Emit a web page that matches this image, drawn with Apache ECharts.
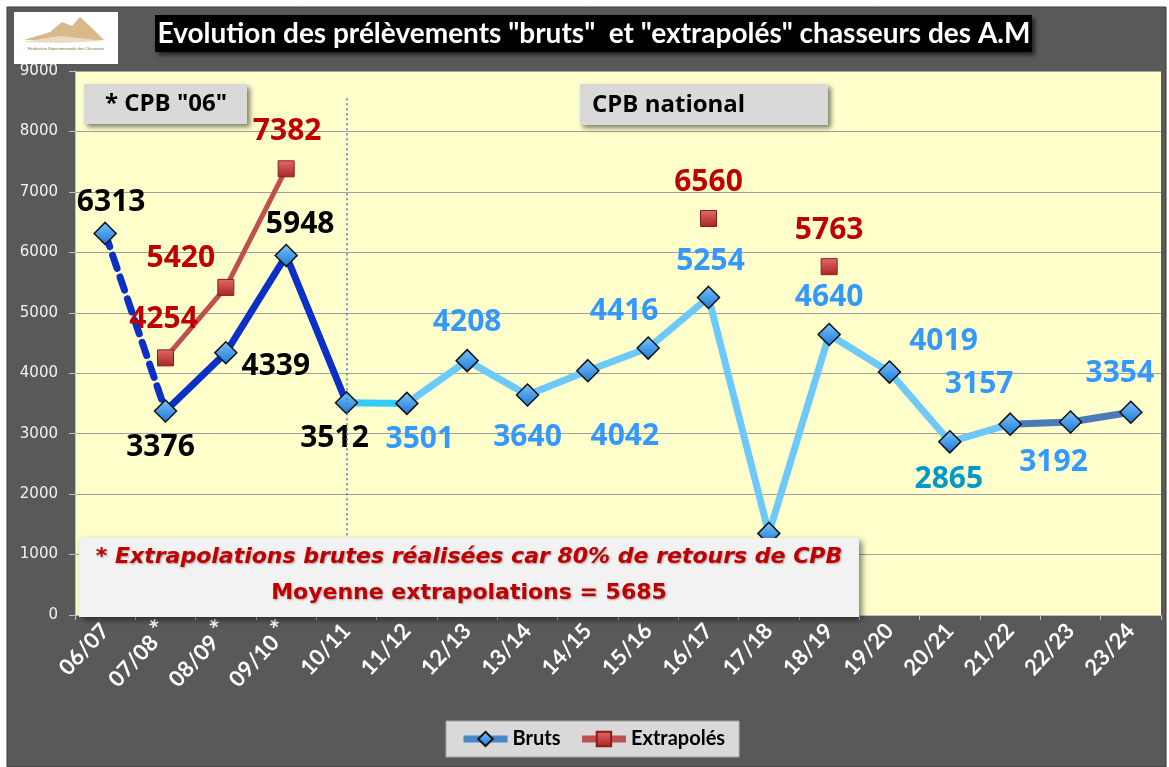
<!DOCTYPE html>
<html>
<head>
<meta charset="utf-8">
<title>Evolution des prélèvements</title>
<script src="https://cdn.jsdelivr.net/npm/echarts@6/dist/echarts.min.js"></script>
<style>
  html, body { margin: 0; padding: 0; background: #fff; }
  #chart { width: 1169px; height: 767px; }
</style>
</head>
<body>
<div id="chart"></div>
<script>
// saisons (l'étoile = extrapolation CPB "06")
const categories = ['06/07', '07/08*', '08/09*', '09/10*', '10/11', '11/12', '12/13', '13/14', '14/15',
  '15/16', '16/17', '17/18', '18/19', '19/20', '20/21', '21/22', '22/23', '23/24']

const bruts = [6313, 3376, 4339, 5948, 3512, 3501, 4208, 3640, 4042, 4416, 5254, 1350, 4640, 4019, 2865, 3157, 3192, 3354]
const extrapoles = [null, 4254, 5420, 7382, null, null, null, null, null, null, 6560, null, 5763, null, null, null, null, null]

const yTicks = [0, 1000, 2000, 3000, 4000, 5000, 6000, 7000, 8000, 9000]

// décalage des étiquettes [dx, dy] (style)
const brutsLabelOffset = [[6, -31], [-5, 37], [50, 14], [14, -31], [-12, 36], [13, 36], [0, -38], [0, 42], [37, 66],
  [-24, -37], [2, -36], null, [0, -37], [54, -31], [-1, 38], [-31, -40], [-17, 40], [-11, -39]]
const brutsLabelColor = ['#000', '#000', '#000', '#000', '#000', '#3399ff', '#3399ff', '#3399ff', '#3399ff',
  '#3399ff', '#3399ff', '#3399ff', '#3399ff', '#3399ff', '#0099cc', '#3399ff', '#3399ff', '#3399ff']
const extraLabelOffset = { 1: [-2, -38], 2: [-45, -29], 3: [1, -37], 10: [0, -36], 12: [0, -36] }

// tronçons de la courbe "Bruts"
const segments = [
  { from: 0, to: 1, color: '#0a30c8', type: [14, 9] },
  { from: 1, to: 4, color: '#0a30c8', type: 'solid' },
  { from: 4, to: 5, color: '#33ccff', type: 'solid' },
  { from: 5, to: 15, color: '#6cc9f9', type: 'solid' },
  { from: 15, to: 17, color: '#4a7ab8', type: 'solid' }
]

const labelFont = 'Open Sans'

const diamondColor = {
  type: 'linear', x: 0, y: 0, x2: 0, y2: 1,
  colorStops: [{ offset: 0, color: '#7cc4ff' }, { offset: 1, color: '#1a76d4' }]
}
const squareColor = {
  type: 'linear', x: 0, y: 0, x2: 0, y2: 1,
  colorStops: [{ offset: 0, color: '#e46a6a' }, { offset: 1, color: '#a82424' }]
}

const segmentSeries = segments.map((s, i) => ({
  name: 'seg' + i,
  type: 'line',
  data: bruts.map((v, k) => (k >= s.from && k <= s.to ? v : null)),
  symbol: 'none',
  silent: true,
  z: 2,
  lineStyle: { color: s.color, width: 7, type: s.type, cap: 'round', join: 'round' }
}))

// limite CPB "06" / CPB national
segmentSeries[0].markLine = {
  silent: true,
  symbol: 'none',
  label: { show: false },
  lineStyle: { color: '#4a7ab8', width: 1.5, type: [2, 3] },
  data: [[{ coord: ['10/11', 8550] }, { coord: ['10/11', 0] }]]
}

const brutsData = bruts.map((v, i) => {
  const off = brutsLabelOffset[i]
  return {
    value: v,
    label: off
      ? { show: true, position: 'inside', offset: off, color: brutsLabelColor[i] }
      : { show: false }
  }
})

const extraData = extrapoles.map((v, i) => {
  if (v === null) return null
  const off = extraLabelOffset[i] || [0, -36]
  return { value: v, label: { show: true, position: 'inside', offset: off } }
})

const chart = echarts.init(document.getElementById('chart'))

const option = {
  backgroundColor: '#ffffff',
  animation: false,
  grid: {
    left: 75, right: 8, top: 71, bottom: 152,
    show: true,
    backgroundColor: '#ffffcc',
    borderWidth: 0
  },
  legend: {
    left: 446, top: 721,
    width: 294,
    padding: [8, 14, 8, 14],
    backgroundColor: '#d9d9d9',
    borderColor: '#a6a6a6',
    borderWidth: 1,
    itemWidth: 44,
    itemHeight: 18,
    itemGap: 18,
    textStyle: { color: '#000', fontSize: 20, fontFamily: 'Lato', fontWeight: 'bold' },
    data: [
      { name: 'Bruts', lineStyle: { color: '#4a86c8', width: 7, opacity: 1 } },
      { name: 'Extrapolés', lineStyle: { color: '#c0504d', width: 7 } }
    ]
  },
  xAxis: {
    type: 'category',
    data: categories,
    boundaryGap: true,
    axisLine: { lineStyle: { color: '#bfbfbf' } },
    axisTick: { show: true, length: 5, lineStyle: { color: '#bfbfbf' } },
    axisLabel: {
      rotate: 47,
      margin: 12,
      color: '#fff',
      fontSize: 22,
      fontWeight: 'bold',
      fontFamily: 'Lato',
      formatter: v => (v.endsWith('*') ? v.slice(0, -1) + '{s|*}' : v),
      rich: { s: { fontSize: 26, color: '#fff', fontWeight: 'bold', fontFamily: 'Lato', padding: [0, 0, 8, 5] } }
    }
  },
  yAxis: {
    type: 'value',
    min: yTicks[0],
    max: yTicks[yTicks.length - 1],
    interval: 1000,
    axisLine: { show: true, lineStyle: { color: '#bfbfbf' } },
    axisTick: { show: true, length: 6, lineStyle: { color: '#bfbfbf' } },
    axisLabel: { color: '#f2f2f2', fontSize: 15, fontFamily: 'DejaVu Sans', margin: 17, formatter: v => String(v) },
    splitLine: { lineStyle: { color: '#a0a0a0', width: 1.2 } }
  },
  series: [
    ...segmentSeries,
    {
      name: 'Bruts',
      type: 'line',
      data: brutsData,
      z: 4,
      symbol: 'diamond',
      symbolSize: 22,
      lineStyle: { width: 0, opacity: 0 },
      itemStyle: { color: diamondColor, borderColor: '#111', borderWidth: 1.5 },
      label: { fontSize: 30, fontFamily: labelFont, fontWeight: 'bold' }
    },
    {
      name: 'Extrapolés',
      type: 'line',
      data: extraData,
      z: 3,
      connectNulls: false,
      symbol: 'rect',
      symbolSize: 16,
      lineStyle: { color: '#c0504d', width: 5 },
      itemStyle: { color: squareColor, borderColor: '#8a1c1c', borderWidth: 1 },
      label: { fontSize: 30, fontFamily: labelFont, fontWeight: 'bold', color: '#c00000' }
    }
  ],
  graphic: [
    // fond gris
    { type: 'rect', z: -100, silent: true, shape: { x: 7, y: 7, width: 1159, height: 760 },
      style: { fill: '#595959', stroke: '#3a3a3a', lineWidth: 1 } },
    // logo
    { type: 'rect', z: 100, shape: { x: 14, y: 12, width: 104, height: 52 }, style: { fill: '#fff' } },
    { type: 'polygon', z: 101, shape: { points: [[24, 40], [50, 32], [62, 22], [72, 26], [80, 17], [92, 28], [104, 40]] },
      style: { fill: '#d9b98a' } },
    { type: 'polygon', z: 101, shape: { points: [[22, 42], [60, 36], [106, 41], [60, 43]] }, style: { fill: '#e8dcc8' } },
    { type: 'text', z: 102, style: { text: 'Fédération Départementale des Chasseurs', x: 66, y: 47, fill: '#8a6a40',
      font: '4px sans-serif', textAlign: 'center' } },
    // titre
    { type: 'rect', z: 100, shape: { x: 155, y: 15, width: 877, height: 37 },
      style: { fill: '#000', shadowBlur: 4, shadowOffsetX: 3, shadowOffsetY: 3, shadowColor: 'rgba(0,0,0,0.6)' } },
    { type: 'text', z: 101, style: { text: 'Evolution des prélèvements "bruts"  et "extrapolés" chasseurs des A.M',
      x: 594, y: 34, fill: '#fff', font: 'bold 28px Lato', textAlign: 'center', textVerticalAlign: 'middle' } },
    // encadrés
    { type: 'rect', z: 100, shape: { x: 84, y: 84, width: 163, height: 40 },
      style: { fill: '#d9d9d9', shadowBlur: 5, shadowOffsetX: 3, shadowOffsetY: 3, shadowColor: 'rgba(0,0,0,0.5)' } },
    { type: 'text', z: 101, style: { text: '* CPB "06"', x: 166, y: 104, fill: '#000', font: 'bold 24px "Open Sans"',
      textAlign: 'center', textVerticalAlign: 'middle' } },
    { type: 'rect', z: 100, shape: { x: 580, y: 84, width: 248, height: 41 },
      style: { fill: '#d9d9d9', shadowBlur: 5, shadowOffsetX: 3, shadowOffsetY: 3, shadowColor: 'rgba(0,0,0,0.5)' } },
    { type: 'text', z: 101, style: { text: 'CPB national', x: 592, y: 105, fill: '#000', font: 'bold 24px "Open Sans"',
      textAlign: 'left', textVerticalAlign: 'middle' } },
    // note
    { type: 'rect', z: 100, shape: { x: 79, y: 538, width: 780, height: 79 },
      style: { fill: '#f2f2f2', shadowBlur: 6, shadowOffsetX: 3, shadowOffsetY: 3, shadowColor: 'rgba(0,0,0,0.5)' } },
    { type: 'text', z: 101, style: { text: '* Extrapolations brutes réalisées car 80% de retours de CPB', x: 469, y: 557,
      fill: '#c00000', font: 'italic bold 22px "DejaVu Sans"', textAlign: 'center', textVerticalAlign: 'middle',
      textShadowColor: 'rgba(0,0,0,0.35)', textShadowBlur: 2, textShadowOffsetX: 1, textShadowOffsetY: 1 } },
    { type: 'text', z: 101, style: { text: 'Moyenne extrapolations = 5685', x: 469, y: 593,
      fill: '#c00000', font: 'bold 22px "DejaVu Sans"', textAlign: 'center', textVerticalAlign: 'middle',
      textShadowColor: 'rgba(0,0,0,0.35)', textShadowBlur: 2, textShadowOffsetX: 1, textShadowOffsetY: 1 } }
  ]
}

chart.setOption(option)
</script>
</body>
</html>
